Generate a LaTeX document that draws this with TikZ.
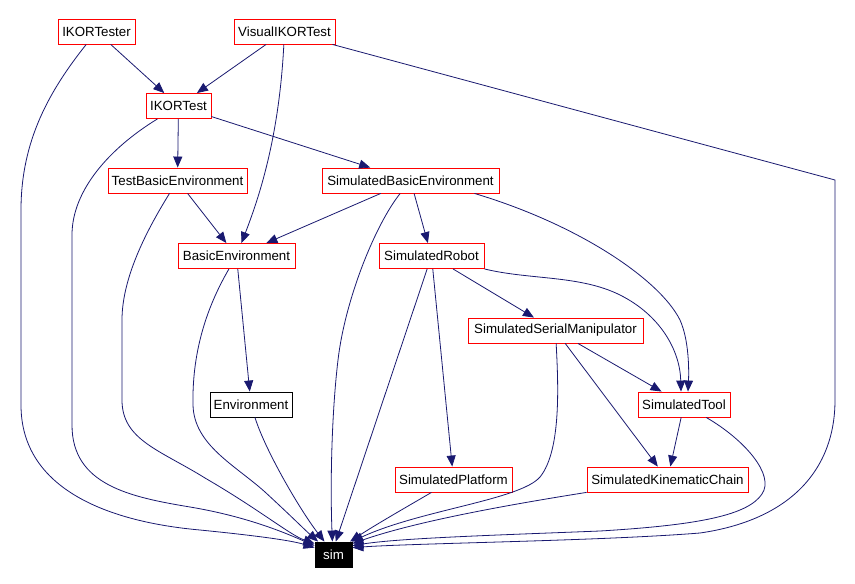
\documentclass[tikz,border=0pt]{standalone}
\usepackage{fontspec}
\setmainfont{Liberation Sans}
\usetikzlibrary{arrows.meta}
\definecolor{edgeblue}{HTML}{191970}
\definecolor{boxred}{HTML}{FF0000}
\begin{document}
\begin{tikzpicture}[x=1pt,y=-1pt,
  cls/.style={draw=boxred, fill=white, line width=0.9pt, minimum height=25pt, inner sep=1pt, font=\fontsize{13.3}{15}\selectfont, text=black},
  plainbox/.style={cls, draw=black},
  targetbox/.style={cls, draw=black, fill=black, text=white},
  dep/.style={draw=edgeblue, line width=0.8pt, -{Triangle[length=11pt,width=9pt]}},
  ]
\path[use as bounding box, fill=white] (0,0) rectangle (855,584);

\node[cls, minimum width=77pt] (IKORTester) at (96.5,31.5) {IKORTester};
\node[cls, minimum width=101pt] (VisualIKORTest) at (284.5,31.5) {VisualIKORTest};
\node[cls, minimum width=65pt] (IKORTest) at (178.5,106) {IKORTest};
\node[cls, minimum width=139pt] (TestBasicEnvironment) at (177.5,180.5) {TestBasicEnvironment};
\node[cls, minimum width=177pt] (SimulatedBasicEnvironment) at (410.5,180.5) {SimulatedBasicEnvironment};
\node[cls, minimum width=117pt] (BasicEnvironment) at (236.5,256) {BasicEnvironment};
\node[cls, minimum width=105pt] (SimulatedRobot) at (431.5,256) {SimulatedRobot};
\node[cls, minimum width=175pt] (SimulatedSerialManipulator) at (555.5,330.5) {SimulatedSerialManipulator};
\node[plainbox, minimum width=82pt] (Environment) at (251,404.5) {Environment};
\node[cls, minimum width=92pt] (SimulatedTool) at (684,404.5) {SimulatedTool};
\node[cls, minimum width=117pt] (SimulatedPlatform) at (453.5,479.5) {SimulatedPlatform};
\node[cls, minimum width=161pt] (SimulatedKinematicChain) at (667.5,479.5) {SimulatedKinematicChain};
\node[targetbox, minimum width=37pt] (sim) at (333.5,554.5) {sim};

% straight dependencies
\draw[dep] (IKORTester) -- (IKORTest);
\draw[dep] (VisualIKORTest) -- (IKORTest);
\draw[dep] (IKORTest) -- (TestBasicEnvironment);
\draw[dep] (IKORTest) -- (SimulatedBasicEnvironment);
\draw[dep] (TestBasicEnvironment) -- (BasicEnvironment);
\draw[dep] (SimulatedBasicEnvironment) -- (BasicEnvironment);
\draw[dep] (SimulatedBasicEnvironment) -- (SimulatedRobot);
\draw[dep] (BasicEnvironment) -- (Environment);
\draw[dep] (SimulatedRobot) -- (SimulatedSerialManipulator);
\draw[dep] (SimulatedRobot) -- (SimulatedPlatform);
\draw[dep] (SimulatedSerialManipulator) -- (SimulatedTool);
\draw[dep] (SimulatedSerialManipulator) -- (SimulatedKinematicChain);
\draw[dep] (SimulatedTool) -- (SimulatedKinematicChain);

% curved dependencies
\draw[dep] (VisualIKORTest) .. controls (279,140) and (258,200) .. (BasicEnvironment);
\draw[dep] ([xshift=64pt]SimulatedBasicEnvironment.south) .. controls (580,225) and (660,280) .. (680,320)
  .. controls (689,340) and (689,370) .. ([xshift=4pt]SimulatedTool.north);
\draw[dep] (SimulatedRobot.south east) .. controls (530,280) and (580,275) .. (620,295)
  .. controls (660,315) and (680,350) .. ([xshift=-3pt]SimulatedTool.north);

% edges into sim
\draw[dep] (IKORTester) .. controls (50,90) and (21,140) .. (21,210) -- (21,405)
  .. controls (21,490) and (110,522) .. (200,530) .. controls (250,535) and (290,540) .. (sim.160);
\draw[dep] (IKORTest) .. controls (110,148) and (72,190) .. (72,235) -- (72,425)
  .. controls (72,485) and (130,497) .. (190,507) .. controls (250,517) and (290,535) .. (sim.155);
\draw[dep] (TestBasicEnvironment) .. controls (150,225) and (122,275) .. (122,320) -- (122,400)
  .. controls (122,440) and (160,450) .. (205,478) .. controls (260,510) and (290,535) .. (sim.150);
\draw[dep] (BasicEnvironment) .. controls (205,310) and (192,355) .. (193,405)
  .. controls (194,445) and (235,465) .. (265,492) .. controls (290,515) and (305,530) .. (sim.140);
\draw[dep] (Environment) .. controls (265,450) and (300,510) .. (sim.125);
\draw[dep] (SimulatedBasicEnvironment) .. controls (375,225) and (345,300) .. (338,360)
  .. controls (332,410) and (330,480) .. (sim.95);
\draw[dep] (SimulatedRobot) -- (sim.80);
\draw[dep] (SimulatedPlatform) .. controls (410,505) and (375,525) .. (sim.38);
\draw[dep] (SimulatedSerialManipulator) .. controls (558,380) and (562,450) .. (540,477)
  .. controls (520,500) and (420,510) .. (sim.35);
\draw[dep] (SimulatedKinematicChain) .. controls (520,503) and (420,520) .. (sim.30);
\draw[dep] (SimulatedTool) .. controls (745,440) and (775,475) .. (762,494)
  .. controls (748,515) and (700,525) .. (600,531) .. controls (500,535) and (400,538) .. (sim.25);
\draw[dep] (VisualIKORTest) -- (835,180) -- (835,400)
  .. controls (835,470) and (790,520) .. (700,533) .. controls (600,541) and (420,543) .. (sim.20);
\end{tikzpicture}
\end{document}
